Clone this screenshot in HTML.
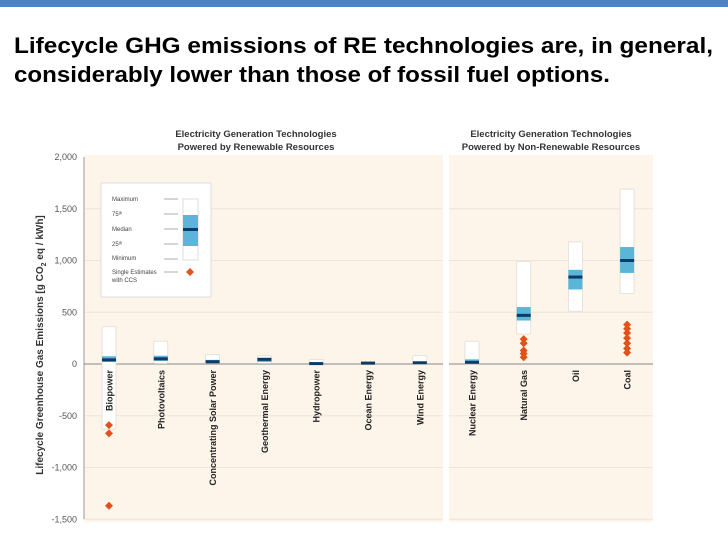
<!DOCTYPE html>
<html><head><meta charset="utf-8"><style>
body{margin:0;background:#fff;}
svg{display:block;font-family:"Liberation Sans",sans-serif;}
</style></head><body>
<svg id="c" width="728" height="546" viewBox="0 0 728 546">
<rect x="0" y="0" width="728" height="7" fill="#4f81c7"/>
<text x="14" y="53" font-size="22" font-weight="bold" textLength="699" lengthAdjust="spacingAndGlyphs">Lifecycle GHG emissions of RE technologies are, in general,</text>
<text x="14" y="82" font-size="22" font-weight="bold" textLength="596" lengthAdjust="spacingAndGlyphs">considerably lower than those of fossil fuel options.</text>
<rect x="84" y="155" width="359" height="367" fill="#fdf4ea"/>
<rect x="449" y="155" width="204" height="367" fill="#fdf4ea"/>
<text x="256" y="137" font-size="9.5" font-weight="bold" fill="#333" text-anchor="middle">Electricity Generation Technologies</text>
<text x="256" y="150" font-size="9.5" font-weight="bold" fill="#333" text-anchor="middle">Powered by Renewable Resources</text>
<text x="551" y="137" font-size="9.5" font-weight="bold" fill="#333" text-anchor="middle">Electricity Generation Technologies</text>
<text x="551" y="150" font-size="9.5" font-weight="bold" fill="#333" text-anchor="middle">Powered by Non-Renewable Resources</text>
<text transform="translate(43,345) rotate(-90)" font-size="10" font-weight="bold" fill="#333" text-anchor="middle">Lifecycle Greenhouse Gas Emissions [g CO<tspan font-size="7" dy="3">2</tspan><tspan dy="-3"> eq / kWh]</tspan></text>
<g id="grid"></g>
<g id="marks"></g>
<g>
<rect x="101" y="183" width="110" height="114" fill="#fff" stroke="#ddd"/>
<g font-size="6" fill="#444">
<text x="112" y="201">Maximum</text><text x="112" y="216">75ᵗʰ</text><text x="112" y="231">Median</text><text x="112" y="246">25ᵗʰ</text><text x="112" y="260">Minimum</text><text x="112" y="274">Single Estimates</text><text x="112" y="282">with CCS</text>
</g>
<g stroke="#999" stroke-width="0.8">
<line x1="164" y1="199" x2="178" y2="199"/><line x1="164" y1="214" x2="178" y2="214"/><line x1="164" y1="229" x2="178" y2="229"/><line x1="164" y1="244" x2="178" y2="244"/><line x1="164" y1="259" x2="178" y2="259"/><line x1="164" y1="272" x2="178" y2="272"/>
</g>
<rect x="183" y="199" width="15" height="61" fill="#fff" stroke="#ddd"/>
<rect x="183" y="215" width="15" height="31" fill="#5bb5d9"/>
<rect x="183" y="228" width="15" height="3" fill="#0d3b66"/>
<path d="M190 268 L194 272 L190 276 L186 272 Z" fill="#e0521a"/>
</g>
</svg>
<script>
const categories=["Biopower","Photovoltaics","Concentrating Solar Power","Geothermal Energy","Hydropower","Ocean Energy","Wind Energy","Nuclear Energy","Natural Gas","Oil","Coal"];
const maxVals=[360,220,90,80,45,25,80,220,990,1180,1690];
const q75Vals=[75,80,40,60,10,15,20,45,550,910,1130];
const medianVals=[40,50,22,45,4,8,12,16,470,840,1000];
const q25Vals=[20,30,15,20,2,4,6,6,420,720,880];
const minVals=[-630,5,9,6,0,2,2,1,290,510,680];
const ccsVals=[[-590,-670,-1370],[],[],[],[],[],[],[],[240,200,130,100,65],[],[380,340,300,250,200,150,110]];
const yTicks=[2000,1500,1000,500,0,-500,-1000,-1500];
const yTickLabels=["2,000","1,500","1,000","500","0","-500","-1,000","-1,500"];
const NS="http://www.w3.org/2000/svg";
function y(v){return 364-v*0.1035;}
function x(i){return i<7?109+i*51.8:472+(i-7)*51.7;}
function mk(tag,attrs,parent){const e=document.createElementNS(NS,tag);for(const k in attrs)e.setAttribute(k,attrs[k]);parent.appendChild(e);return e;}
const grid=document.getElementById('grid'),marks=document.getElementById('marks');
yTicks.forEach((t,i)=>{
  if(t!==0&&t!==2000){
    const l1=mk('line',{x1:85,x2:443,y1:y(t),y2:y(t),stroke:'#f0e4d6','stroke-width':1},grid);
    
    
    const l2=mk('line',{x1:449,x2:653,y1:y(t),y2:y(t),stroke:'#f0e4d6','stroke-width':1},grid);
    
    
  }
  const tx=mk('text',{x:77,y:y(t)+3,'font-size':9,fill:'#555','text-anchor':'end'},grid);
  tx.textContent=yTickLabels[i];
  
  
});
const ax=mk('line',{x1:84,x2:84,y1:y(2000),y2:y(-1500),stroke:'#999','stroke-width':1},grid);


[[84,443],[449,653]].forEach(r=>{
  const z=mk('line',{x1:r[0],x2:r[1],y1:y(0),y2:y(0),stroke:'#888','stroke-width':1},grid);
  
  
});
categories.forEach((c,i)=>{
  const cx=x(i),w=14;
  const g=mk('g',{},marks);
  
  
  mk('rect',{x:cx-w/2,y:y(maxVals[i]),width:w,height:Math.max(1,y(minVals[i])-y(maxVals[i])),fill:'#fff',stroke:'#e2dcd4','stroke-width':0.8,rx:1},g);
  mk('rect',{x:cx-w/2,y:y(q75Vals[i]),width:w,height:Math.max(1,y(q25Vals[i])-y(q75Vals[i])),fill:'#5bb5d9'},g);
  mk('rect',{x:cx-w/2,y:y(medianVals[i])-1.5,width:w,height:3,fill:'#0d3b66'},g);
  ccsVals[i].forEach(v=>{
    const d=mk('path',{d:`M${cx} ${y(v)-4} L${cx+4} ${y(v)} L${cx} ${y(v)+4} L${cx-4} ${y(v)} Z`,fill:'#e0521a'},g);
    
    
  });
  const t=mk('text',{transform:`translate(${cx+3.5},${y(0)+6}) rotate(-90)`,'font-size':9,'font-weight':'bold',fill:'#222','text-anchor':'end'},g);
  t.textContent=c;
  
  
});
</script>
</body></html>
